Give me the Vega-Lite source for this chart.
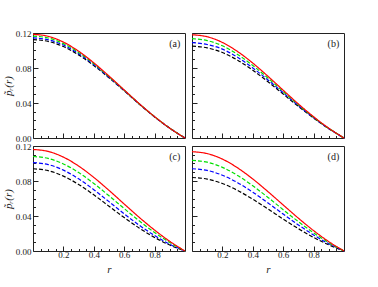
{
  "$schema": "https://vega.github.io/schema/vega-lite/v6.json",
  "padding": {"top": 28, "left": 1, "right": 5, "bottom": 5},
  "background": "white",
  "config": {
    "view": {"stroke": "#222", "strokeWidth": 1},
    "axis": {"tickColor": "#222", "labelColor": "#222", "titleColor": "#222", "labelOverlap": false, "labelFlush": false, "labelBound": false, "domain": false, "grid": false, "tickCount": 100, "labelFont": "Liberation Serif", "labelFontSize": 9, "titleFont": "Liberation Serif", "titleFontStyle": "italic", "titleFontWeight": "normal", "titleFontSize": 11}
  },
  "datasets": {
    "curves": [
      {"panel":"a","series":"k","r":0,"p":0.1125},{"panel":"a","series":"k","r":0.1,"p":0.1104},{"panel":"a","series":"k","r":0.2,"p":0.1045},{"panel":"a","series":"k","r":0.3,"p":0.0950},{"panel":"a","series":"k","r":0.4,"p":0.0828},{"panel":"a","series":"k","r":0.5,"p":0.0688},{"panel":"a","series":"k","r":0.6,"p":0.0540},{"panel":"a","series":"k","r":0.7,"p":0.0386},{"panel":"a","series":"k","r":0.8,"p":0.0241},{"panel":"a","series":"k","r":0.9,"p":0.0111},{"panel":"a","series":"k","r":1,"p":0},
      {"panel":"a","series":"b","r":0,"p":0.1145},{"panel":"a","series":"b","r":0.1,"p":0.1123},{"panel":"a","series":"b","r":0.2,"p":0.1062},{"panel":"a","series":"b","r":0.3,"p":0.0964},{"panel":"a","series":"b","r":0.4,"p":0.0838},{"panel":"a","series":"b","r":0.5,"p":0.0694},{"panel":"a","series":"b","r":0.6,"p":0.0543},{"panel":"a","series":"b","r":0.7,"p":0.0388},{"panel":"a","series":"b","r":0.8,"p":0.0242},{"panel":"a","series":"b","r":0.9,"p":0.0111},{"panel":"a","series":"b","r":1,"p":0},
      {"panel":"a","series":"g","r":0,"p":0.1165},{"panel":"a","series":"g","r":0.1,"p":0.1143},{"panel":"a","series":"g","r":0.2,"p":0.1079},{"panel":"a","series":"g","r":0.3,"p":0.0978},{"panel":"a","series":"g","r":0.4,"p":0.0849},{"panel":"a","series":"g","r":0.5,"p":0.0701},{"panel":"a","series":"g","r":0.6,"p":0.0546},{"panel":"a","series":"g","r":0.7,"p":0.0389},{"panel":"a","series":"g","r":0.8,"p":0.0243},{"panel":"a","series":"g","r":0.9,"p":0.0112},{"panel":"a","series":"g","r":1,"p":0},
      {"panel":"a","series":"r","r":0,"p":0.1185},{"panel":"a","series":"r","r":0.1,"p":0.1162},{"panel":"a","series":"r","r":0.2,"p":0.1096},{"panel":"a","series":"r","r":0.3,"p":0.0992},{"panel":"a","series":"r","r":0.4,"p":0.0859},{"panel":"a","series":"r","r":0.5,"p":0.0708},{"panel":"a","series":"r","r":0.6,"p":0.0549},{"panel":"a","series":"r","r":0.7,"p":0.0391},{"panel":"a","series":"r","r":0.8,"p":0.0244},{"panel":"a","series":"r","r":0.9,"p":0.0112},{"panel":"a","series":"r","r":1,"p":0},

      {"panel":"b","series":"k","r":0,"p":0.105},{"panel":"b","series":"k","r":0.1,"p":0.1030},{"panel":"b","series":"k","r":0.2,"p":0.0977},{"panel":"b","series":"k","r":0.3,"p":0.0889},{"panel":"b","series":"k","r":0.4,"p":0.0775},{"panel":"b","series":"k","r":0.5,"p":0.0642},{"panel":"b","series":"k","r":0.6,"p":0.0502},{"panel":"b","series":"k","r":0.7,"p":0.0362},{"panel":"b","series":"k","r":0.8,"p":0.0228},{"panel":"b","series":"k","r":0.9,"p":0.0106},{"panel":"b","series":"k","r":1,"p":0},
      {"panel":"b","series":"b","r":0,"p":0.109},{"panel":"b","series":"b","r":0.1,"p":0.1069},{"panel":"b","series":"b","r":0.2,"p":0.1016},{"panel":"b","series":"b","r":0.3,"p":0.0922},{"panel":"b","series":"b","r":0.4,"p":0.0801},{"panel":"b","series":"b","r":0.5,"p":0.0663},{"panel":"b","series":"b","r":0.6,"p":0.0517},{"panel":"b","series":"b","r":0.7,"p":0.0371},{"panel":"b","series":"b","r":0.8,"p":0.0233},{"panel":"b","series":"b","r":0.9,"p":0.0108},{"panel":"b","series":"b","r":1,"p":0},
      {"panel":"b","series":"g","r":0,"p":0.1135},{"panel":"b","series":"g","r":0.1,"p":0.1113},{"panel":"b","series":"g","r":0.2,"p":0.1054},{"panel":"b","series":"g","r":0.3,"p":0.0955},{"panel":"b","series":"g","r":0.4,"p":0.0829},{"panel":"b","series":"g","r":0.5,"p":0.0684},{"panel":"b","series":"g","r":0.6,"p":0.0531},{"panel":"b","series":"g","r":0.7,"p":0.0380},{"panel":"b","series":"g","r":0.8,"p":0.0238},{"panel":"b","series":"g","r":0.9,"p":0.0110},{"panel":"b","series":"g","r":1,"p":0},
      {"panel":"b","series":"r","r":0,"p":0.118},{"panel":"b","series":"r","r":0.1,"p":0.1157},{"panel":"b","series":"r","r":0.2,"p":0.1092},{"panel":"b","series":"r","r":0.3,"p":0.0988},{"panel":"b","series":"r","r":0.4,"p":0.0856},{"panel":"b","series":"r","r":0.5,"p":0.0705},{"panel":"b","series":"r","r":0.6,"p":0.0546},{"panel":"b","series":"r","r":0.7,"p":0.0389},{"panel":"b","series":"r","r":0.8,"p":0.0243},{"panel":"b","series":"r","r":0.9,"p":0.0112},{"panel":"b","series":"r","r":1,"p":0},

      {"panel":"c","series":"k","r":0,"p":0.094},{"panel":"c","series":"k","r":0.1,"p":0.0918},{"panel":"c","series":"k","r":0.2,"p":0.0856},{"panel":"c","series":"k","r":0.3,"p":0.0761},{"panel":"c","series":"k","r":0.4,"p":0.0642},{"panel":"c","series":"k","r":0.5,"p":0.0512},{"panel":"c","series":"k","r":0.6,"p":0.0382},{"panel":"c","series":"k","r":0.7,"p":0.0261},{"panel":"c","series":"k","r":0.8,"p":0.0155},{"panel":"c","series":"k","r":0.9,"p":0.0068},{"panel":"c","series":"k","r":1,"p":0},
      {"panel":"c","series":"b","r":0,"p":0.101},{"panel":"c","series":"b","r":0.1,"p":0.0988},{"panel":"c","series":"b","r":0.2,"p":0.0924},{"panel":"c","series":"b","r":0.3,"p":0.0825},{"panel":"c","series":"b","r":0.4,"p":0.0701},{"panel":"c","series":"b","r":0.5,"p":0.0564},{"panel":"c","series":"b","r":0.6,"p":0.0425},{"panel":"c","series":"b","r":0.7,"p":0.0293},{"panel":"c","series":"b","r":0.8,"p":0.0177},{"panel":"c","series":"b","r":0.9,"p":0.0078},{"panel":"c","series":"b","r":1,"p":0},
      {"panel":"c","series":"g","r":0,"p":0.108},{"panel":"c","series":"g","r":0.1,"p":0.1058},{"panel":"c","series":"g","r":0.2,"p":0.0995},{"panel":"c","series":"g","r":0.3,"p":0.0897},{"panel":"c","series":"g","r":0.4,"p":0.0772},{"panel":"c","series":"g","r":0.5,"p":0.0631},{"panel":"c","series":"g","r":0.6,"p":0.0485},{"panel":"c","series":"g","r":0.7,"p":0.0342},{"panel":"c","series":"g","r":0.8,"p":0.0211},{"panel":"c","series":"g","r":0.9,"p":0.0096},{"panel":"c","series":"g","r":1,"p":0},
      {"panel":"c","series":"r","r":0,"p":0.116},{"panel":"c","series":"r","r":0.1,"p":0.1138},{"panel":"c","series":"r","r":0.2,"p":0.1073},{"panel":"c","series":"r","r":0.3,"p":0.0971},{"panel":"c","series":"r","r":0.4,"p":0.0841},{"panel":"c","series":"r","r":0.5,"p":0.0693},{"panel":"c","series":"r","r":0.6,"p":0.0537},{"panel":"c","series":"r","r":0.7,"p":0.0383},{"panel":"c","series":"r","r":0.8,"p":0.0239},{"panel":"c","series":"r","r":0.9,"p":0.0110},{"panel":"c","series":"r","r":1,"p":0},

      {"panel":"d","series":"k","r":0,"p":0.084},{"panel":"d","series":"k","r":0.1,"p":0.0822},{"panel":"d","series":"k","r":0.2,"p":0.0771},{"panel":"d","series":"k","r":0.3,"p":0.0692},{"panel":"d","series":"k","r":0.4,"p":0.0592},{"panel":"d","series":"k","r":0.5,"p":0.0480},{"panel":"d","series":"k","r":0.6,"p":0.0365},{"panel":"d","series":"k","r":0.7,"p":0.0255},{"panel":"d","series":"k","r":0.8,"p":0.0155},{"panel":"d","series":"k","r":0.9,"p":0.0070},{"panel":"d","series":"k","r":1,"p":0},
      {"panel":"d","series":"b","r":0,"p":0.094},{"panel":"d","series":"b","r":0.1,"p":0.0921},{"panel":"d","series":"b","r":0.2,"p":0.0866},{"panel":"d","series":"b","r":0.3,"p":0.0781},{"panel":"d","series":"b","r":0.4,"p":0.0672},{"panel":"d","series":"b","r":0.5,"p":0.0549},{"panel":"d","series":"b","r":0.6,"p":0.0422},{"panel":"d","series":"b","r":0.7,"p":0.0298},{"panel":"d","series":"b","r":0.8,"p":0.0183},{"panel":"d","series":"b","r":0.9,"p":0.0083},{"panel":"d","series":"b","r":1,"p":0},
      {"panel":"d","series":"g","r":0,"p":0.1035},{"panel":"d","series":"g","r":0.1,"p":0.1015},{"panel":"d","series":"g","r":0.2,"p":0.0956},{"panel":"d","series":"g","r":0.3,"p":0.0863},{"panel":"d","series":"g","r":0.4,"p":0.0745},{"panel":"d","series":"g","r":0.5,"p":0.0612},{"panel":"d","series":"g","r":0.6,"p":0.0472},{"panel":"d","series":"g","r":0.7,"p":0.0335},{"panel":"d","series":"g","r":0.8,"p":0.0208},{"panel":"d","series":"g","r":0.9,"p":0.0095},{"panel":"d","series":"g","r":1,"p":0},
      {"panel":"d","series":"r","r":0,"p":0.1135},{"panel":"d","series":"r","r":0.1,"p":0.1113},{"panel":"d","series":"r","r":0.2,"p":0.1050},{"panel":"d","series":"r","r":0.3,"p":0.0950},{"panel":"d","series":"r","r":0.4,"p":0.0823},{"panel":"d","series":"r","r":0.5,"p":0.0678},{"panel":"d","series":"r","r":0.6,"p":0.0526},{"panel":"d","series":"r","r":0.7,"p":0.0375},{"panel":"d","series":"r","r":0.8,"p":0.0233},{"panel":"d","series":"r","r":0.9,"p":0.0107},{"panel":"d","series":"r","r":1,"p":0}
    ],
    "labels": [
      {"panel":"a","label":"(a)"},{"panel":"b","label":"(b)"},{"panel":"c","label":"(c)"},{"panel":"d","label":"(d)"}
    ]
  },
  "columns": 2,
  "spacing": {"row": 8, "column": 7},
  "bounds": "flush",
  "concat": [
    {
      "width": 152, "height": 105,
      "layer": [
        {
          "data": {"name": "curves"},
          "transform": [{"filter": "datum.panel === 'a'"}],
          "mark": {"type": "line", "interpolate": "monotone", "strokeWidth": 1.2},
          "encoding": {
            "x": {"field": "r", "type": "quantitative", "scale": {"domain": [0, 1], "nice": false, "zero": false},
              "axis": {"title": null, "labels": false, "values": [0.05,0.1,0.15,0.2,0.25,0.3,0.35,0.4,0.45,0.5,0.55,0.6,0.65,0.7,0.75,0.8,0.85,0.9,0.95],
                "tickSize": {"condition": {"test": "indexof([0.2,0.4,0.6,0.8], datum.value) >= 0", "value": -5}, "value": -2.5}}},
            "y": {"field": "p", "type": "quantitative", "scale": {"domain": [0, 0.12], "nice": false},
              "axis": {"title": "p̃ᵣ(r)", "titlePadding": 2, "labelPadding": 7, "values": [0,0.01,0.02,0.03,0.04,0.05,0.06,0.07,0.08,0.09,0.1,0.11,0.12],
                "labelExpr": "indexof([0,0.04,0.08,0.12], datum.value) >= 0 ? format(datum.value, '.2f') : ''",
                "tickSize": {"condition": {"test": "indexof([0,0.04,0.08,0.12], datum.value) >= 0", "value": -5}, "value": -2.5}}},
            "color": {"field": "series", "type": "nominal", "scale": {"domain": ["r","g","b","k"], "range": ["#ff0000","#00e000","#0000ff","#000000"]}, "legend": null},
            "strokeDash": {"field": "series", "type": "nominal", "scale": {"domain": ["r","g","b","k"], "range": [[1,0],[4,2],[4,2],[4,2]]}, "legend": null}
          }
        },
        {
          "data": {"name": "labels"},
          "transform": [{"filter": "datum.panel === 'a'"}],
          "mark": {"type": "text", "align": "right", "baseline": "middle", "font": "Liberation Serif", "fontSize": 10, "color": "#222"},
          "encoding": {"x": {"datum": 0.969, "type": "quantitative"}, "y": {"datum": 0.1074, "type": "quantitative"}, "text": {"field": "label"}}
        }
      ]
    },
    {
      "width": 152, "height": 105,
      "layer": [
        {
          "data": {"name": "curves"},
          "transform": [{"filter": "datum.panel === 'b'"}],
          "mark": {"type": "line", "interpolate": "monotone", "strokeWidth": 1.2},
          "encoding": {
            "x": {"field": "r", "type": "quantitative", "scale": {"domain": [0, 1], "nice": false, "zero": false},
              "axis": {"title": null, "labels": false, "values": [0.05,0.1,0.15,0.2,0.25,0.3,0.35,0.4,0.45,0.5,0.55,0.6,0.65,0.7,0.75,0.8,0.85,0.9,0.95],
                "tickSize": {"condition": {"test": "indexof([0.2,0.4,0.6,0.8], datum.value) >= 0", "value": -5}, "value": -2.5}}},
            "y": {"field": "p", "type": "quantitative", "scale": {"domain": [0, 0.12], "nice": false},
              "axis": {"title": null, "labels": false, "values": [0,0.01,0.02,0.03,0.04,0.05,0.06,0.07,0.08,0.09,0.1,0.11,0.12],
                "tickSize": {"condition": {"test": "indexof([0,0.04,0.08,0.12], datum.value) >= 0", "value": -5}, "value": -2.5}}},
            "color": {"field": "series", "type": "nominal", "scale": {"domain": ["r","g","b","k"], "range": ["#ff0000","#00e000","#0000ff","#000000"]}, "legend": null},
            "strokeDash": {"field": "series", "type": "nominal", "scale": {"domain": ["r","g","b","k"], "range": [[1,0],[4,2],[4,2],[4,2]]}, "legend": null}
          }
        },
        {
          "data": {"name": "labels"},
          "transform": [{"filter": "datum.panel === 'b'"}],
          "mark": {"type": "text", "align": "right", "baseline": "middle", "font": "Liberation Serif", "fontSize": 10, "color": "#222"},
          "encoding": {"x": {"datum": 0.969, "type": "quantitative"}, "y": {"datum": 0.1074, "type": "quantitative"}, "text": {"field": "label"}}
        }
      ]
    },
    {
      "width": 152, "height": 105,
      "layer": [
        {
          "data": {"name": "curves"},
          "transform": [{"filter": "datum.panel === 'c'"}],
          "mark": {"type": "line", "interpolate": "monotone", "strokeWidth": 1.2},
          "encoding": {
            "x": {"field": "r", "type": "quantitative", "scale": {"domain": [0, 1], "nice": false, "zero": false},
              "axis": {"title": "r", "titlePadding": 2, "labelPadding": 4, "values": [0.05,0.1,0.15,0.2,0.25,0.3,0.35,0.4,0.45,0.5,0.55,0.6,0.65,0.7,0.75,0.8,0.85,0.9,0.95],
                "labelExpr": "indexof([0.2,0.4,0.6,0.8], datum.value) >= 0 ? format(datum.value, '.1f') : ''",
                "tickSize": {"condition": {"test": "indexof([0.2,0.4,0.6,0.8], datum.value) >= 0", "value": -5}, "value": -2.5}}},
            "y": {"field": "p", "type": "quantitative", "scale": {"domain": [0, 0.12], "nice": false},
              "axis": {"title": "p̃ᵣ(r)", "titlePadding": 2, "labelPadding": 7, "values": [0,0.01,0.02,0.03,0.04,0.05,0.06,0.07,0.08,0.09,0.1,0.11,0.12],
                "labelExpr": "indexof([0,0.04,0.08,0.12], datum.value) >= 0 ? format(datum.value, '.2f') : ''",
                "tickSize": {"condition": {"test": "indexof([0,0.04,0.08,0.12], datum.value) >= 0", "value": -5}, "value": -2.5}}},
            "color": {"field": "series", "type": "nominal", "scale": {"domain": ["r","g","b","k"], "range": ["#ff0000","#00e000","#0000ff","#000000"]}, "legend": null},
            "strokeDash": {"field": "series", "type": "nominal", "scale": {"domain": ["r","g","b","k"], "range": [[1,0],[4,2],[4,2],[4,2]]}, "legend": null}
          }
        },
        {
          "data": {"name": "labels"},
          "transform": [{"filter": "datum.panel === 'c'"}],
          "mark": {"type": "text", "align": "right", "baseline": "middle", "font": "Liberation Serif", "fontSize": 10, "color": "#222"},
          "encoding": {"x": {"datum": 0.969, "type": "quantitative"}, "y": {"datum": 0.1074, "type": "quantitative"}, "text": {"field": "label"}}
        }
      ]
    },
    {
      "width": 152, "height": 105,
      "layer": [
        {
          "data": {"name": "curves"},
          "transform": [{"filter": "datum.panel === 'd'"}],
          "mark": {"type": "line", "interpolate": "monotone", "strokeWidth": 1.2},
          "encoding": {
            "x": {"field": "r", "type": "quantitative", "scale": {"domain": [0, 1], "nice": false, "zero": false},
              "axis": {"title": "r", "titlePadding": 2, "labelPadding": 4, "values": [0.05,0.1,0.15,0.2,0.25,0.3,0.35,0.4,0.45,0.5,0.55,0.6,0.65,0.7,0.75,0.8,0.85,0.9,0.95],
                "labelExpr": "indexof([0.2,0.4,0.6,0.8], datum.value) >= 0 ? format(datum.value, '.1f') : ''",
                "tickSize": {"condition": {"test": "indexof([0.2,0.4,0.6,0.8], datum.value) >= 0", "value": -5}, "value": -2.5}}},
            "y": {"field": "p", "type": "quantitative", "scale": {"domain": [0, 0.12], "nice": false},
              "axis": {"title": null, "labels": false, "values": [0,0.01,0.02,0.03,0.04,0.05,0.06,0.07,0.08,0.09,0.1,0.11,0.12],
                "tickSize": {"condition": {"test": "indexof([0,0.04,0.08,0.12], datum.value) >= 0", "value": -5}, "value": -2.5}}},
            "color": {"field": "series", "type": "nominal", "scale": {"domain": ["r","g","b","k"], "range": ["#ff0000","#00e000","#0000ff","#000000"]}, "legend": null},
            "strokeDash": {"field": "series", "type": "nominal", "scale": {"domain": ["r","g","b","k"], "range": [[1,0],[4,2],[4,2],[4,2]]}, "legend": null}
          }
        },
        {
          "data": {"name": "labels"},
          "transform": [{"filter": "datum.panel === 'd'"}],
          "mark": {"type": "text", "align": "right", "baseline": "middle", "font": "Liberation Serif", "fontSize": 10, "color": "#222"},
          "encoding": {"x": {"datum": 0.969, "type": "quantitative"}, "y": {"datum": 0.1074, "type": "quantitative"}, "text": {"field": "label"}}
        }
      ]
    }
  ]
}
